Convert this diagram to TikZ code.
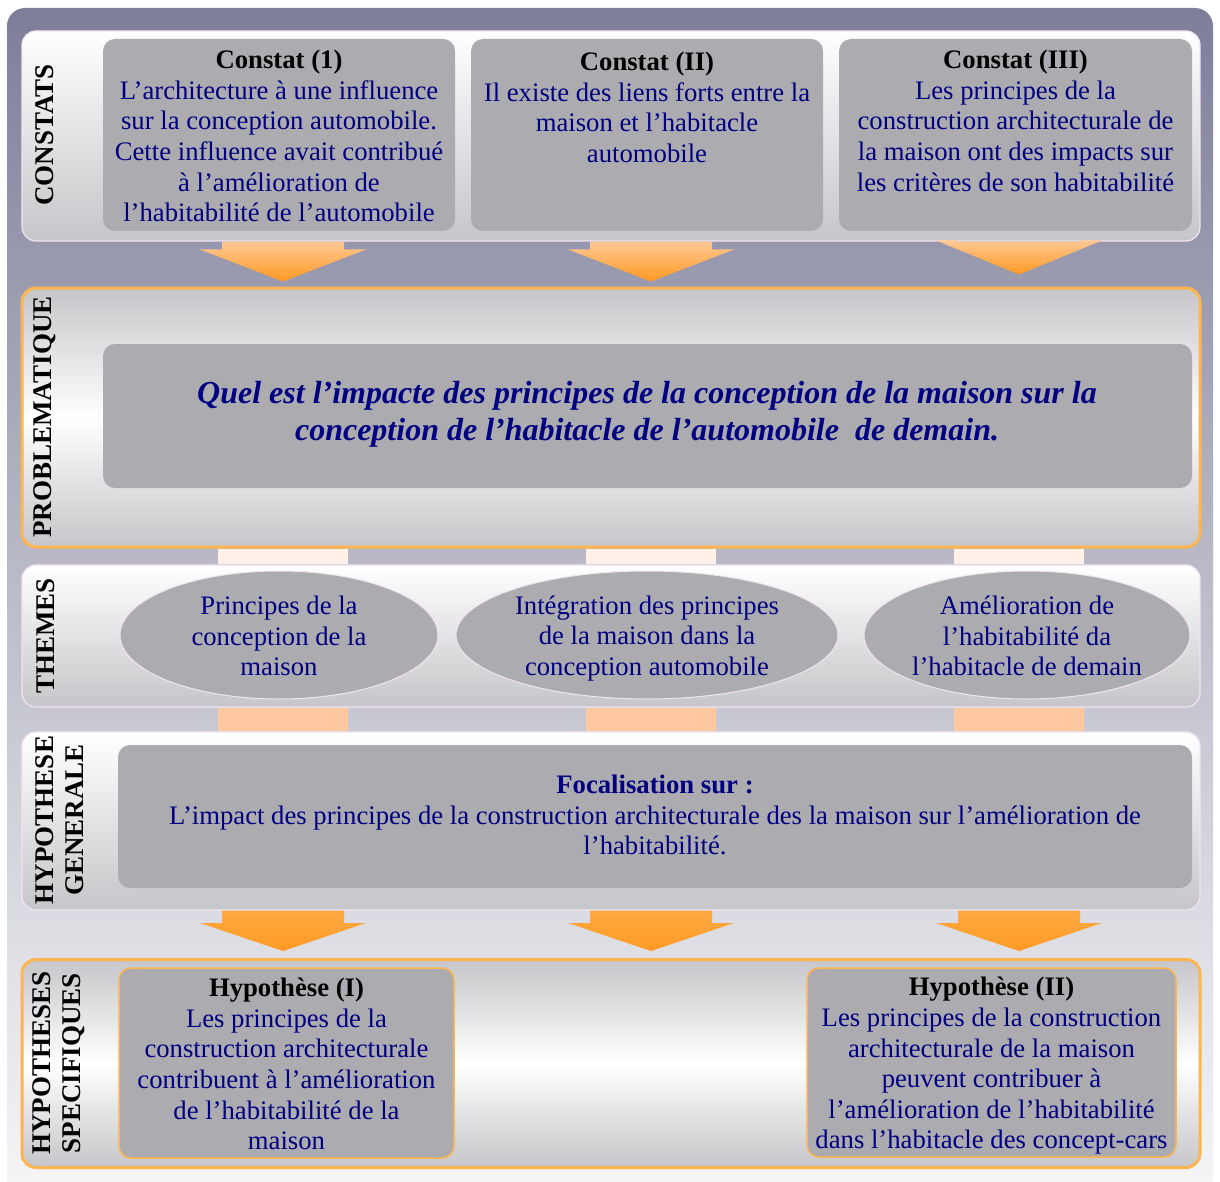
\documentclass[tikz,border=0pt]{standalone}
\usepackage{fontspec}
\setmainfont{Liberation Serif}
\usetikzlibrary{shapes.geometric,calc}
\definecolor{bgtop}{HTML}{7E7E9A}
\definecolor{bgmid}{HTML}{BDBDCA}
\definecolor{bgbot}{HTML}{F6F6F8}
\definecolor{boxgrey}{HTML}{ACABB0}
\definecolor{panelgrey}{HTML}{C6C6CA}
\definecolor{edgepink}{HTML}{F2E4F0}
\definecolor{orangeedge}{HTML}{FFB54F}
\definecolor{arrowlight}{HTML}{FFC894}
\definecolor{arrowdark}{HTML}{FF9A22}
\definecolor{palelink}{HTML}{FFF0E8}
\definecolor{peachlink}{HTML}{FFC8A0}
\definecolor{txtblue}{HTML}{000080}
\tikzset{
  panel/.style={draw=edgepink, line width=1.2pt, rounded corners=14pt, top color=white, bottom color=panelgrey, minimum width=1178, inner sep=0},
  panelo/.style={draw=orangeedge, line width=3pt, rounded corners=14pt, top color=panelgrey, bottom color=panelgrey, middle color=white, minimum width=1178, inner sep=0},
  box/.style={fill=boxgrey, rounded corners=12pt, inner sep=0},
  theme/.style={ellipse, fill=boxgrey, draw=edgepink, line width=1pt, inner sep=0, minimum height=128},
  body/.style={text=txtblue, align=center, inner sep=0, font=\fontsize{26.7}{30.6}\selectfont},
  quest/.style={text=txtblue, align=center, inner sep=0, font=\fontsize{32}{37}\selectfont\bfseries\itshape},
  lbl/.style={rotate=90, align=center, inner sep=0, font=\fontsize{27}{30}\selectfont\bfseries},
  toparrow/.style={top color=arrowlight, bottom color=arrowdark},
  botarrow/.style={top color=arrowdark!85!white, bottom color=arrowdark},
}
% #1 column, #2 from node, #3 to node, #4 style, #5 head start above target, #6 tip above target
\newcommand{\blockarrow}[6]{%
  \path[#4] let \p1=(#1 |- #2.south), \p2=(#1 |- #3.north) in
    (\x1-61pt,\y1) -- (\x1+61pt,\y1) -- (\x1+61pt,\y2+#5pt) -- (\x1+83pt,\y2+#5pt)
    -- (\x1,\y2+#6pt) -- (\x1-83pt,\y2+#5pt) -- (\x1-61pt,\y2+#5pt) -- cycle;}
\newcommand{\linkrect}[4]{%
  \path[fill=#4] let \p1=(#1 |- #2.south), \p2=(#1 |- #3.north) in
    (\x1-65pt,\y1) rectangle (\x1+65pt,\y2);}
\begin{document}
\begin{tikzpicture}[x=1pt,y=-1pt]
\useasboundingbox (0,0) rectangle (1220,1182);
\begin{scope}
\clip (0,0) rectangle (1220,1182);
\shade[top color=bgtop, bottom color=bgbot, middle color=bgmid, rounded corners=18pt] (7,8) rectangle (1213,1196);
\end{scope}
\coordinate (col1) at (283,0);
\coordinate (col2) at (651,0);
\coordinate (col3) at (1019,0);
% panels
\node[panel, minimum height=210] (pan1) at (611,136) {};
\node[panelo, minimum height=259] (pan2) at (611,417.5) {};
\node[panel, minimum height=142] (pan3) at (611,636) {};
\node[panel, minimum height=178] (pan4) at (611,821) {};
\node[panelo, minimum height=208] (pan5) at (611,1063.5) {};
% links
\blockarrow{col1}{pan1}{pan2}{toparrow}{37}{5}
\blockarrow{col2}{pan1}{pan2}{toparrow}{37}{5}
\blockarrow{col3}{pan1}{pan2}{toparrow}{46}{12}
\foreach \c in {col1,col2,col3}{
  \linkrect{\c}{pan2}{pan3}{palelink}
  \linkrect{\c}{pan3}{pan4}{peachlink}
  \blockarrow{\c}{pan4}{pan5}{botarrow}{35}{7}
}
% labels
\node[lbl] (l1) at (45,135) {CONSTATS};
\node[lbl] (l2) at (45,417) {PROBLEMATIQUE};
\node[lbl] (l3) at (46,636) {THEMES};
\node[lbl] (l4) at (60,820) {HYPOTHESE\\GENERALE};
\node[lbl] (l5) at (59,1063) {HYPOTHESES\\SPECIFIQUES};
% constats
\node[box, minimum width=352, minimum height=192] (c1) at (279,135) {};
\node[box, minimum width=352, minimum height=192] (c2) at (647,135) {};
\node[box, minimum width=353, minimum height=192] (c3) at (1015.5,135) {};
\node[body, anchor=north] (tc1) at (279,50) {\textcolor{black}{\bfseries Constat (1)}\\L’architecture à une influence\\sur la conception automobile.\\Cette influence avait contribué\\à l’amélioration de\\l’habitabilité de l’automobile};
\node[body, anchor=north] (tc2) at (647,52) {\textcolor{black}{\bfseries Constat (II)}\\Il existe des liens forts entre la\\maison et l’habitacle\\automobile};
\node[body, anchor=north] (tc3) at (1015.5,50) {\textcolor{black}{\bfseries Constat (III)}\\Les principes de la\\construction architecturale de\\la maison ont des impacts sur\\les critères de son habitabilité};
% problematique
\node[box, minimum width=1089, minimum height=144] (pb) at (647.5,416) {};
\node[quest] (tpb) at (647,414) {Quel est l’impacte des principes de la conception de la maison sur la\\conception de l’habitacle de l’automobile \ de demain.};
% themes
\node[theme, minimum width=318] (e1) at (279,635) {};
\node[theme, minimum width=382] (e2) at (647,635) {};
\node[theme, minimum width=326] (e3) at (1027,635) {};
\node[body] (te1) at (279,636) {Principes de la\\conception de la\\maison};
\node[body] (te2) at (647,638.5) {Intégration des principes\\de la maison dans la\\conception automobile};
\node[body] (te3) at (1027,636) {Amélioration de\\l’habitabilité da\\l’habitacle de demain};
% hypothese generale
\node[box, minimum width=1074, minimum height=143] (hg) at (655,816.5) {};
\node[body] (thg) at (655,815) {{\bfseries Focalisation sur :}\\L’impact des principes de la construction architecturale des la maison sur l’amélioration de\\l’habitabilité.};
% hypotheses specifiques
\node[box, draw=orangeedge, line width=1.5pt, minimum width=335, minimum height=190] (h1) at (286.5,1063) {};
\node[box, draw=orangeedge, line width=1.5pt, minimum width=369, minimum height=189] (h2) at (991.5,1062.5) {};
\node[body] (th1) at (286.5,1064) {\textcolor{black}{\bfseries Hypothèse (I)}\\Les principes de la\\construction architecturale\\contribuent à l’amélioration\\de l’habitabilité de la\\maison};
\node[body] (th2) at (991.5,1066) {\textcolor{black}{\bfseries Hypothèse (II)}\\Les principes de la construction\\architecturale de la maison\\peuvent contribuer à\\l’amélioration de l’habitabilité\\dans l’habitacle des concept-cars};
\end{tikzpicture}
\end{document}
